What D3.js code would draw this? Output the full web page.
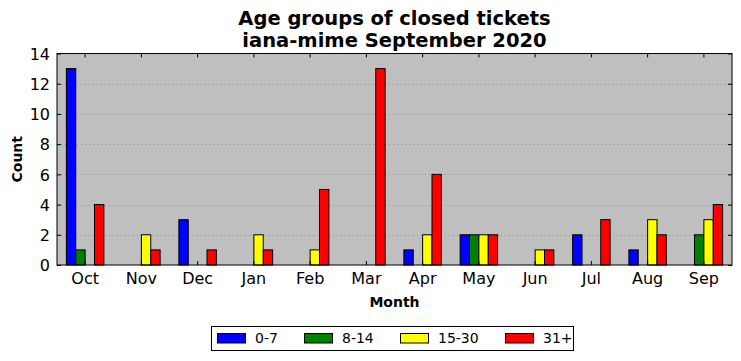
<!DOCTYPE html>
<html><head><meta charset="utf-8">
<script src="https://cdn.jsdelivr.net/npm/d3@7"></script>
<style>body{margin:0;background:#fff}svg{display:block;font-family:"DejaVu Sans",sans-serif}</style>
</head><body><svg id="c" width="741" height="361"></svg>
<script>
const months = ["Oct","Nov","Dec","Jan","Feb","Mar","Apr","May","Jun","Jul","Aug","Sep"];
const seriesNames = ["0-7","8-14","15-30","31+"];
const s0_7   = [13,0,3,0,0,0,1,2,0,2,1,0];
const s8_14  = [1,0,0,0,0,0,0,2,0,0,0,2];
const s15_30 = [0,2,0,2,1,0,2,2,1,0,3,3];
const s31    = [4,1,1,1,5,13,6,2,1,3,2,4];
const yTicks = [0,2,4,6,8,10,12,14];
const colors = ["#0000ff","#008000","#ffff00","#ff0000"];
const series = [s0_7, s8_14, s15_30, s31];

const svg = d3.select("#c");
const L=57, R=732, T=53.5, B=265;
const x = d3.scaleBand().domain(months).range([L,R]);
const y = d3.scaleLinear().domain([0,14]).range([B,T]);
const bw = x.bandwidth()/6;

svg.append("rect").attr("x",L).attr("y",T).attr("width",R-L).attr("height",B-T).attr("fill","#bfbfbf");

// grid
svg.append("g").selectAll("line").data(yTicks.filter(d=>d>0&&d<14)).join("line")
  .attr("x1",L).attr("x2",R).attr("y1",d=>Math.round(y(d))+0.5).attr("y2",d=>Math.round(y(d))+0.5)
  .attr("stroke","#808080").attr("stroke-width",0.8).attr("stroke-dasharray","1,3");

// bars
series.forEach((s,k)=>{
  svg.append("g").selectAll("rect").data(s.map((v,i)=>({v,m:months[i]})).filter(d=>d.v>0)).join("rect")
    .attr("x",d=>x(d.m)+x.bandwidth()/2+(k-2)*bw)
    .attr("y",d=>y(d.v)).attr("width",bw).attr("height",d=>B-y(d.v))
    .attr("fill",colors[k]).attr("stroke","#000").attr("stroke-width",1);
});

// frame
svg.append("rect").attr("x",L).attr("y",T).attr("width",R-L).attr("height",B-T).attr("fill","none").attr("stroke","#000").attr("stroke-width",1);

// axes
const xb = svg.append("g").attr("transform",`translate(0,${B})`).call(d3.axisBottom(x).tickSize(-4).tickPadding(8));
const xt = svg.append("g").attr("transform",`translate(0,${T})`).call(d3.axisTop(x).tickSize(-4).tickFormat(""));
const yl = svg.append("g").attr("transform",`translate(${L},0)`).call(d3.axisLeft(y).tickValues(yTicks).tickSize(-4).tickPadding(7));
const yr = svg.append("g").attr("transform",`translate(${R},0)`).call(d3.axisRight(y).tickValues(yTicks).tickSize(-4).tickFormat(""));
[xb,xt,yl,yr].forEach(g=>{g.select(".domain").remove();g.selectAll("text").attr("font-size",16).attr("fill","#000").attr("font-family","DejaVu Sans");g.selectAll("line").attr("stroke","#000");});
yl.selectAll("text").attr("dy","0.36em");

// titles
const cx=(L+R)/2;
svg.append("text").attr("x",cx).attr("y",24.5).attr("text-anchor","middle").attr("font-size",19.5).attr("font-weight","bold").text("Age groups of closed tickets");
svg.append("text").attr("x",cx).attr("y",46.5).attr("text-anchor","middle").attr("font-size",19.5).attr("font-weight","bold").text("iana-mime September 2020");
svg.append("text").attr("x",cx).attr("y",307).attr("text-anchor","middle").attr("font-size",14).attr("font-weight","bold").text("Month");
svg.append("text").attr("transform",`translate(22,${(T+B)/2}) rotate(-90)`).attr("text-anchor","middle").attr("font-size",14).attr("font-weight","bold").text("Count");

// legend
const lg = svg.append("g");
lg.append("rect").attr("x",211.5).attr("y",326.5).attr("width",362).attr("height",24).attr("fill","#fff").attr("stroke","#000");
const lx=[217,304,400,505];
seriesNames.forEach((n,k)=>{
  lg.append("rect").attr("x",lx[k]+0.5).attr("y",333.5).attr("width",28).attr("height",9.5).attr("fill",colors[k]).attr("stroke","#000");
  lg.append("text").attr("x",lx[k]+38).attr("y",343).attr("font-size",14).text(n);
});
</script></body></html>
